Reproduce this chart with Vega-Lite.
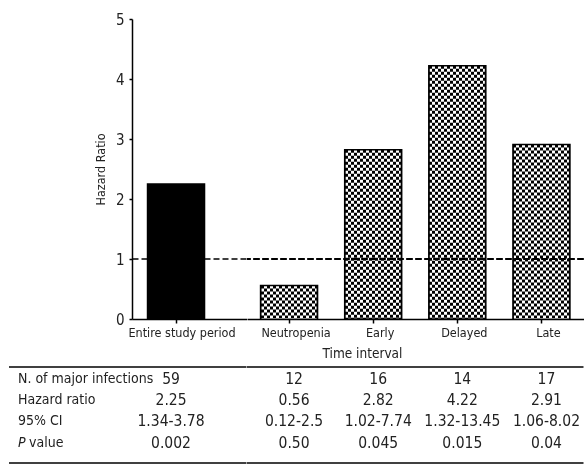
{
  "$schema": "https://vega.github.io/schema/vega-lite/v6.json",
  "padding": {"left": 8, "top": 12, "right": 0, "bottom": 0},
  "background": "white",
  "config": {
    "view": {"stroke": null},
    "font": "Liberation Sans Narrow, DejaVu Sans Condensed, Liberation Sans, sans-serif",
    "axis": {"domainColor": "black", "domainWidth": 1.5, "tickColor": "black", "tickWidth": 1.5, "labelColor": "#222", "titleColor": "#222", "grid": false, "titleFontWeight": "normal"},
    "text": {"color": "#222"}
  },
  "datasets": {
    "bars": [
      {"interval": "Entire study period", "hr": 2.25},
      {"interval": "Neutropenia", "hr": 0.56},
      {"interval": "Early", "hr": 2.82},
      {"interval": "Delayed", "hr": 4.22},
      {"interval": "Late", "hr": 2.91}
    ],
    "cells": [
      {"interval": "Entire study period", "row": "N", "text": "59"},
      {"interval": "Entire study period", "row": "HR", "text": "2.25"},
      {"interval": "Entire study period", "row": "CI", "text": "1.34-3.78"},
      {"interval": "Entire study period", "row": "P", "text": "0.002"},
      {"interval": "Neutropenia", "row": "N", "text": "12"},
      {"interval": "Neutropenia", "row": "HR", "text": "0.56"},
      {"interval": "Neutropenia", "row": "CI", "text": "0.12-2.5"},
      {"interval": "Neutropenia", "row": "P", "text": "0.50"},
      {"interval": "Early", "row": "N", "text": "16"},
      {"interval": "Early", "row": "HR", "text": "2.82"},
      {"interval": "Early", "row": "CI", "text": "1.02-7.74"},
      {"interval": "Early", "row": "P", "text": "0.045"},
      {"interval": "Delayed", "row": "N", "text": "14"},
      {"interval": "Delayed", "row": "HR", "text": "4.22"},
      {"interval": "Delayed", "row": "CI", "text": "1.32-13.45"},
      {"interval": "Delayed", "row": "P", "text": "0.015"},
      {"interval": "Late", "row": "N", "text": "17"},
      {"interval": "Late", "row": "HR", "text": "2.91"},
      {"interval": "Late", "row": "CI", "text": "1.06-8.02"},
      {"interval": "Late", "row": "P", "text": "0.04"}
    ],
    "rowlabels": [
      {"row": "N", "label": "N. of major infections"},
      {"row": "HR", "label": "Hazard ratio"},
      {"row": "CI", "label": "95% CI"},
      {"row": "P", "label": "value"}
    ]
  },
  "columns": 3,
  "align": "each",
  "bounds": "flush",
  "spacing": {"row": 48, "column": 0},
  "concat": [
    {
      "width": 123, "height": 300,
      "data": {"values": [{}]},
      "mark": {"type": "text"},
      "encoding": {"text": {"value": ""}}
    },
    {
      "width": 114.5, "height": 300,
      "data": {"name": "bars"},
      "transform": [{"filter": "datum.interval === 'Entire study period'"}],
      "layer": [
        {
          "mark": {"type": "bar", "width": 57, "fill": "black", "stroke": "black", "strokeWidth": 1.5},
          "encoding": {
            "x": {"field": "interval", "type": "nominal", "sort": null,
                  "scale": {"type": "band", "paddingInner": 0, "paddingOuter": 0.504, "align": 0.27},
                  "axis": {"title": null, "labelAngle": 0, "labelFontSize": 12.5, "tickSize": 4, "labelPadding": 3, "labelOffset": 6}},
            "y": {"field": "hr", "type": "quantitative", "scale": {"domain": [0, 5], "nice": false},
                  "axis": {"title": "Hazard Ratio", "values": [0, 1, 2, 3, 4, 5], "format": "d", "tickSize": 3, "labelFontSize": 15, "labelPadding": 5, "titleFontSize": 12.5, "titlePadding": 8}}
          }
        },
        {
          "mark": {"type": "rule", "strokeDash": [6, 3], "strokeWidth": 1.5, "color": "black"},
          "encoding": {"y": {"datum": 1}}
        }
      ]
    },
    {
      "width": 336.5, "height": 300,
      "data": {"name": "bars"},
      "transform": [{"filter": "datum.interval !== 'Entire study period'"}],
      "layer": [
        {
          "mark": {"type": "bar", "width": 57, "stroke": "black", "strokeWidth": 1.5,
            "fill": {"gradient": "linear", "x1": 0, "y1": 0, "x2": 1, "y2": 0, "stops": [
              {"offset": 0, "color": "black"}, {"offset": 0.0526, "color": "black"},
              {"offset": 0.0526, "color": "white"}, {"offset": 0.1053, "color": "white"},
              {"offset": 0.1053, "color": "black"}, {"offset": 0.1579, "color": "black"},
              {"offset": 0.1579, "color": "white"}, {"offset": 0.2105, "color": "white"},
              {"offset": 0.2105, "color": "black"}, {"offset": 0.2632, "color": "black"},
              {"offset": 0.2632, "color": "white"}, {"offset": 0.3158, "color": "white"},
              {"offset": 0.3158, "color": "black"}, {"offset": 0.3684, "color": "black"},
              {"offset": 0.3684, "color": "white"}, {"offset": 0.4211, "color": "white"},
              {"offset": 0.4211, "color": "black"}, {"offset": 0.4737, "color": "black"},
              {"offset": 0.4737, "color": "white"}, {"offset": 0.5263, "color": "white"},
              {"offset": 0.5263, "color": "black"}, {"offset": 0.5789, "color": "black"},
              {"offset": 0.5789, "color": "white"}, {"offset": 0.6316, "color": "white"},
              {"offset": 0.6316, "color": "black"}, {"offset": 0.6842, "color": "black"},
              {"offset": 0.6842, "color": "white"}, {"offset": 0.7368, "color": "white"},
              {"offset": 0.7368, "color": "black"}, {"offset": 0.7895, "color": "black"},
              {"offset": 0.7895, "color": "white"}, {"offset": 0.8421, "color": "white"},
              {"offset": 0.8421, "color": "black"}, {"offset": 0.8947, "color": "black"},
              {"offset": 0.8947, "color": "white"}, {"offset": 0.9474, "color": "white"},
              {"offset": 0.9474, "color": "black"}, {"offset": 1, "color": "black"}
            ]}},
          "encoding": {
            "x": {"field": "interval", "type": "nominal", "sort": null,
                  "scale": {"type": "band", "paddingInner": 0, "paddingOuter": 0, "domain": ["Neutropenia", "Early", "Delayed", "Late"]},
                  "axis": {"title": "Time interval", "titleX": 115, "titleFontSize": 13.5, "titlePadding": 8, "labelAngle": 0, "labelFontSize": 12.5, "tickSize": 4, "labelPadding": 3, "labelOffset": 7}},
            "y": {"field": "hr", "type": "quantitative", "scale": {"domain": [0, 5], "nice": false}, "axis": null}
          }
        },
        {
          "mark": {"type": "rule", "stroke": "white", "strokeWidth": 55, "strokeDash": [3, 3], "strokeDashOffset": 3, "strokeCap": "butt", "blend": "difference"},
          "encoding": {
            "x": {"field": "interval", "type": "nominal", "sort": null},
            "y": {"field": "hr", "type": "quantitative"},
            "y2": {"datum": 0}
          }
        },
        {
          "mark": {"type": "rule", "strokeDash": [6, 3], "strokeWidth": 1.5, "color": "black"},
          "encoding": {"y": {"datum": 1}}
        }
      ]
    },
    {
      "width": 123, "height": 96,
      "layer": [
        {
          "data": {"name": "rowlabels"},
          "transform": [{"filter": "datum.row !== 'P'"}],
          "mark": {"type": "text", "align": "left", "baseline": "middle", "fontSize": 14, "dx": 9},
          "encoding": {
            "x": {"datum": "label", "type": "nominal", "scale": {"type": "band", "paddingInner": 0, "paddingOuter": 0}, "bandPosition": 0, "axis": null},
            "y": {"field": "row", "type": "nominal", "scale": {"type": "point", "domain": ["N", "HR", "CI", "P"], "padding": 0.764, "align": 0.37}, "axis": null},
            "text": {"field": "label"}
          }
        },
        {
          "data": {"name": "rowlabels"},
          "transform": [{"filter": "datum.row === 'P'"}],
          "mark": {"type": "text", "align": "left", "baseline": "middle", "fontSize": 14, "dx": 20},
          "encoding": {
            "x": {"datum": "label", "type": "nominal", "scale": {"type": "band", "paddingInner": 0, "paddingOuter": 0}, "bandPosition": 0, "axis": null},
            "y": {"field": "row", "type": "nominal", "scale": {"type": "point", "domain": ["N", "HR", "CI", "P"], "padding": 0.764, "align": 0.37}, "axis": null},
            "text": {"field": "label"}
          }
        },
        {
          "data": {"name": "rowlabels"},
          "transform": [{"filter": "datum.row === 'P'"}],
          "mark": {"type": "text", "align": "left", "baseline": "middle", "fontSize": 14, "fontStyle": "italic", "dx": 9},
          "encoding": {
            "x": {"datum": "label", "type": "nominal", "scale": {"type": "band", "paddingInner": 0, "paddingOuter": 0}, "bandPosition": 0, "axis": null},
            "y": {"field": "row", "type": "nominal", "scale": {"type": "point", "domain": ["N", "HR", "CI", "P"], "padding": 0.764, "align": 0.37}, "axis": null},
            "text": {"value": "P"}
          }
        },
        {
          "data": {"values": [{}]},
          "mark": {"type": "rule", "strokeWidth": 1.5, "color": "black"},
          "encoding": {"y": {"datum": 1, "type": "quantitative", "scale": {"domain": [0, 1]}, "axis": null}}
        },
        {
          "data": {"values": [{}]},
          "mark": {"type": "rule", "strokeWidth": 1.5, "color": "black"},
          "encoding": {"y": {"datum": 0, "type": "quantitative", "scale": {"domain": [0, 1]}, "axis": null}}
        }
      ],
      "resolve": {"scale": {"y": "independent"}}
    },
    {
      "width": 114.5, "height": 96,
      "layer": [
        {
          "data": {"name": "cells"},
          "transform": [{"filter": "datum.interval === 'Entire study period'"}],
          "mark": {"type": "text", "align": "center", "baseline": "middle", "fontSize": 15.5, "dx": -5},
          "encoding": {
            "x": {"field": "interval", "type": "nominal", "scale": {"type": "band", "paddingInner": 0, "paddingOuter": 0.504, "align": 0.27}, "axis": null},
            "y": {"field": "row", "type": "nominal", "scale": {"type": "point", "domain": ["N", "HR", "CI", "P"], "padding": 0.764, "align": 0.37}, "axis": null},
            "text": {"field": "text"}
          }
        },
        {
          "data": {"values": [{}]},
          "mark": {"type": "rule", "strokeWidth": 1.5, "color": "black"},
          "encoding": {"y": {"datum": 1, "type": "quantitative", "scale": {"domain": [0, 1]}, "axis": null}}
        },
        {
          "data": {"values": [{}]},
          "mark": {"type": "rule", "strokeWidth": 1.5, "color": "black"},
          "encoding": {"y": {"datum": 0, "type": "quantitative", "scale": {"domain": [0, 1]}, "axis": null}}
        }
      ],
      "resolve": {"scale": {"y": "independent"}}
    },
    {
      "width": 336.5, "height": 96,
      "layer": [
        {
          "data": {"name": "cells"},
          "transform": [{"filter": "datum.interval !== 'Entire study period'"}],
          "mark": {"type": "text", "align": "center", "baseline": "middle", "fontSize": 15.5, "dx": 5},
          "encoding": {
            "x": {"field": "interval", "type": "nominal", "scale": {"type": "band", "paddingInner": 0, "paddingOuter": 0, "domain": ["Neutropenia", "Early", "Delayed", "Late"]}, "axis": null},
            "y": {"field": "row", "type": "nominal", "scale": {"type": "point", "domain": ["N", "HR", "CI", "P"], "padding": 0.764, "align": 0.37}, "axis": null},
            "text": {"field": "text"}
          }
        },
        {
          "data": {"values": [{}]},
          "mark": {"type": "rule", "strokeWidth": 1.5, "color": "black"},
          "encoding": {"y": {"datum": 1, "type": "quantitative", "scale": {"domain": [0, 1]}, "axis": null}}
        },
        {
          "data": {"values": [{}]},
          "mark": {"type": "rule", "strokeWidth": 1.5, "color": "black"},
          "encoding": {"y": {"datum": 0, "type": "quantitative", "scale": {"domain": [0, 1]}, "axis": null}}
        }
      ],
      "resolve": {"scale": {"y": "independent"}}
    }
  ]
}
